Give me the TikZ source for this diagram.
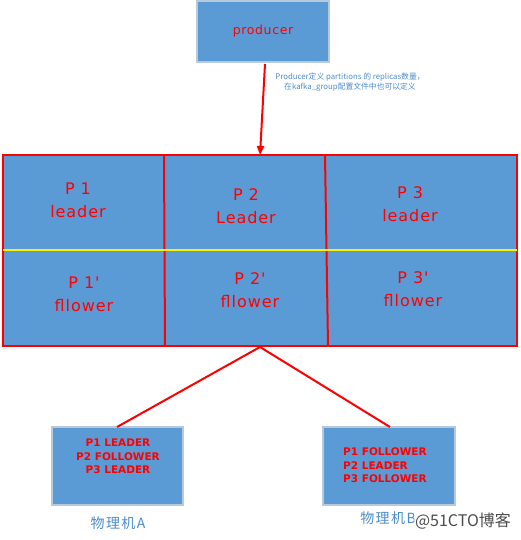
\documentclass[tikz,border=0pt]{standalone}
\usepackage{fontspec}
\setmainfont{DejaVu Sans}
\newfontfamily\cjk{Noto Sans CJK SC}
\newfontfamily\cellfont[LetterSpace=6]{DejaVu Sans}
\newfontfamily\prodfont[LetterSpace=5]{DejaVu Sans}
\newfontfamily\cjkspaced[LetterSpace=10]{Noto Sans CJK SC}
\usetikzlibrary{arrows.meta}
\definecolor{boxblue}{HTML}{5B9BD5}
\definecolor{boxedge}{HTML}{B8C9DC}
\definecolor{capblue}{HTML}{4A8CCB}
\begin{document}
\begin{tikzpicture}[x=1pt,y=-1pt,
  bluebox/.style={draw=boxedge,line width=1.3pt,fill=boxblue,inner sep=0pt},
  redline/.style={draw=red,line width=2pt},
  celltext/.style={text=red,font=\cellfont\fontsize{16}{23}\selectfont,align=center,inner sep=0pt},
  machtext/.style={text=red,font=\bfseries\fontsize{10.5}{13.5}\selectfont,inner sep=0pt},
  caption/.style={text=capblue,font=\cjkspaced\fontsize{14}{16}\selectfont,inner sep=0pt}]
\useasboundingbox (0,0) rectangle (521,540);
% producer
\node[bluebox,minimum width=132pt,minimum height=61pt,text=red,font=\prodfont\fontsize{12.5}{14}\selectfont] (producer) at (263,31.5) {producer};
\node[text=capblue,font=\cjk\fontsize{7.8}{10}\selectfont,align=center,inner sep=0pt] (note) at (350,82) {Producer定义 partitions 的 replicas数量，\\在kafka\_group配置文件中也可以定义};
% grid
\node[draw=red,line width=2pt,fill=boxblue,minimum width=514pt,minimum height=191pt,inner sep=0pt] (grid) at (260,250.5) {};
\coordinate (v1t) at (164,155); \coordinate (v1b) at (165,346);
\coordinate (v2t) at (325,155); \coordinate (v2b) at (328,346);
\coordinate (hl) at (3,250); \coordinate (hr) at (517,250);
\draw[redline] (v1t) -- (v1b);
\draw[redline] (v2t) -- (v2b);
\draw[draw=yellow,line width=2pt] (hl) -- (hr);
\node[celltext] (c11) at (78,200) {P 1\\leader};
\node[celltext] (c12) at (246,206) {P 2\\Leader};
\node[celltext] (c13) at (410,204) {P 3\\leader};
\node[celltext] (c21) at (84,294) {P 1'\\fllower};
\node[celltext] (c22) at (250,290) {P 2'\\fllower};
\node[celltext] (c23) at (413,289) {P 3'\\fllower};
% arrow
\coordinate (arrS) at (265,64);
\coordinate (arrE) at (260,155);
\draw[redline,-{Triangle[width=7pt,length=9pt]}] (arrS) -- (arrE);
% machines
\node[bluebox,minimum width=131pt,minimum height=78pt] (ma) at (117.5,466) {};
\node[bluebox,minimum width=132pt,minimum height=78pt] (mb) at (389,466) {};
\coordinate (gb) at (260,347);
\draw[redline] (gb) -- (117,427);
\draw[redline] (gb) -- (390,427);
\node[machtext,align=center] (ta) at (118,456.5) {P1 LEADER\\P2 FOLLOWER\\P3 LEADER};
\node[machtext,align=left,anchor=west] (tb) at (343,465.5) {P1 FOLLOWER\\P2 LEADER\\P3 FOLLOWER};
\node[caption] (la) at (118,523) {物理机A};
\node[caption] (lb) at (388,518) {物理机B};
\node[text=black!70,font=\cjk\fontsize{16}{18}\selectfont,inner sep=1pt,fill=white,fill opacity=0.6,text opacity=1] (wm) at (463,521) {@51CTO博客};
\end{tikzpicture}
\end{document}
